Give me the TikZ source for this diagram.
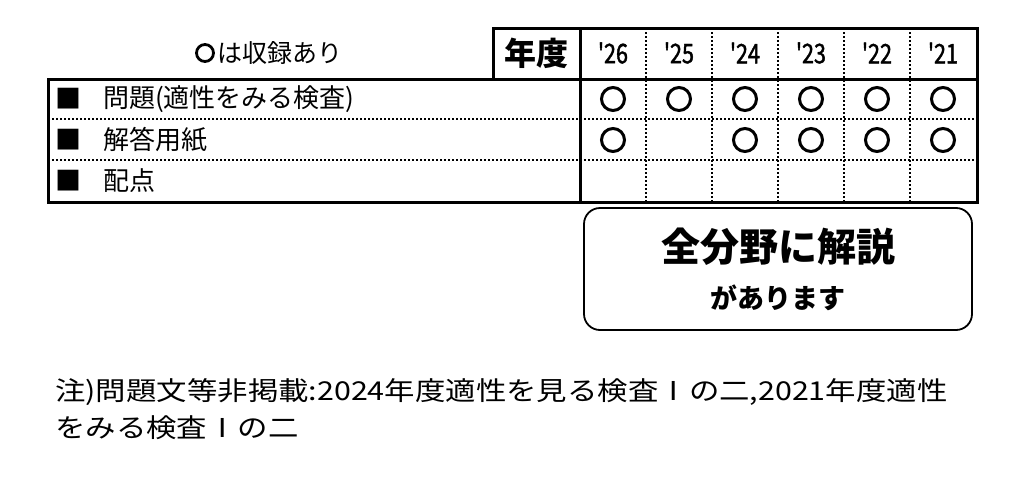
\documentclass[tikz,border=0pt]{standalone}
\usepackage{fontspec}
\usepackage{graphicx}
\newfontfamily\jp{Noto Sans CJK JP}
\begin{document}
\begin{tikzpicture}[x=1pt,y=-1pt,
  solid/.style={line width=3pt},
  dot/.style={line width=2pt,dash pattern=on 2pt off 2pt},
  mk/.style={circle,draw,line width=3pt,minimum size=23pt,inner sep=0pt},
  lab/.style={font=\jp\fontsize{26}{28}\selectfont,anchor=west,inner sep=0pt}]
\useasboundingbox (0,0) rectangle (1028,498);
\draw[solid] (493,28) rectangle (977,79);
\draw[solid] (580,28) -- (580,202);
\draw[solid] (48,79) rectangle (977,202);
\foreach \x in {646,712,778,844,910}{\draw[dot] (\x,28) -- (\x,202);}
\draw[dot] (48,119) -- (977,119);
\draw[dot] (48,160) -- (977,160);
\node[font=\jp\fontsize{32}{34}\selectfont\bfseries] (nd) at (536,53) {年度};
\node[mk,minimum size=17pt,line width=2.8pt] (lc) at (205,53) {};
\node[font=\jp\fontsize{25}{27}\selectfont,anchor=west,inner sep=0pt] (leg) at (217,53) {は収録あり};
\foreach \y/\x in {26/613,25/679,24/745,23/811,22/877,21/943}{
  \node[font=\jp\fontsize{27}{29}\selectfont\addfontfeatures{FakeStretch=0.8,FakeBold=1.5}] (y\y) at (\x,53) {'\y};}
\node[lab] (b1) at (55,99) {■}; \node[lab] (r1) at (103,99) {問題(適性をみる検査)};
\node[lab] (b2) at (55,140) {■}; \node[lab] (r2) at (103,140) {解答用紙};
\node[lab] (b3) at (55,181) {■}; \node[lab] (r3) at (103,181) {配点};
\foreach \x in {613,679,745,811,877,943}{\node[mk] at (\x,99) {};}
\foreach \x in {613,745,811,877,943}{\node[mk] at (\x,140) {};}
\draw[line width=1.8pt,rounded corners=16pt] (584,208) rectangle (972,330);
\node[font=\jp\fontsize{39}{41}\selectfont\bfseries] (t1) at (778,247) {全分野に解説};
\node[font=\jp\fontsize{27}{29}\selectfont\bfseries] (t2) at (778,298) {があります};
\node[lab,font=\jp\fontsize{26}{28}\selectfont] (n1) at (55,392) {\scalebox{1.17}[1]{注)問題文等非掲載:2024年度適性を見る検査Ⅰの二,2021年度適性}};
\node[lab,font=\jp\fontsize{26}{28}\selectfont] (n2) at (55,428) {\scalebox{1.17}[1]{をみる検査Ⅰの二}};
\end{tikzpicture}
\end{document}
